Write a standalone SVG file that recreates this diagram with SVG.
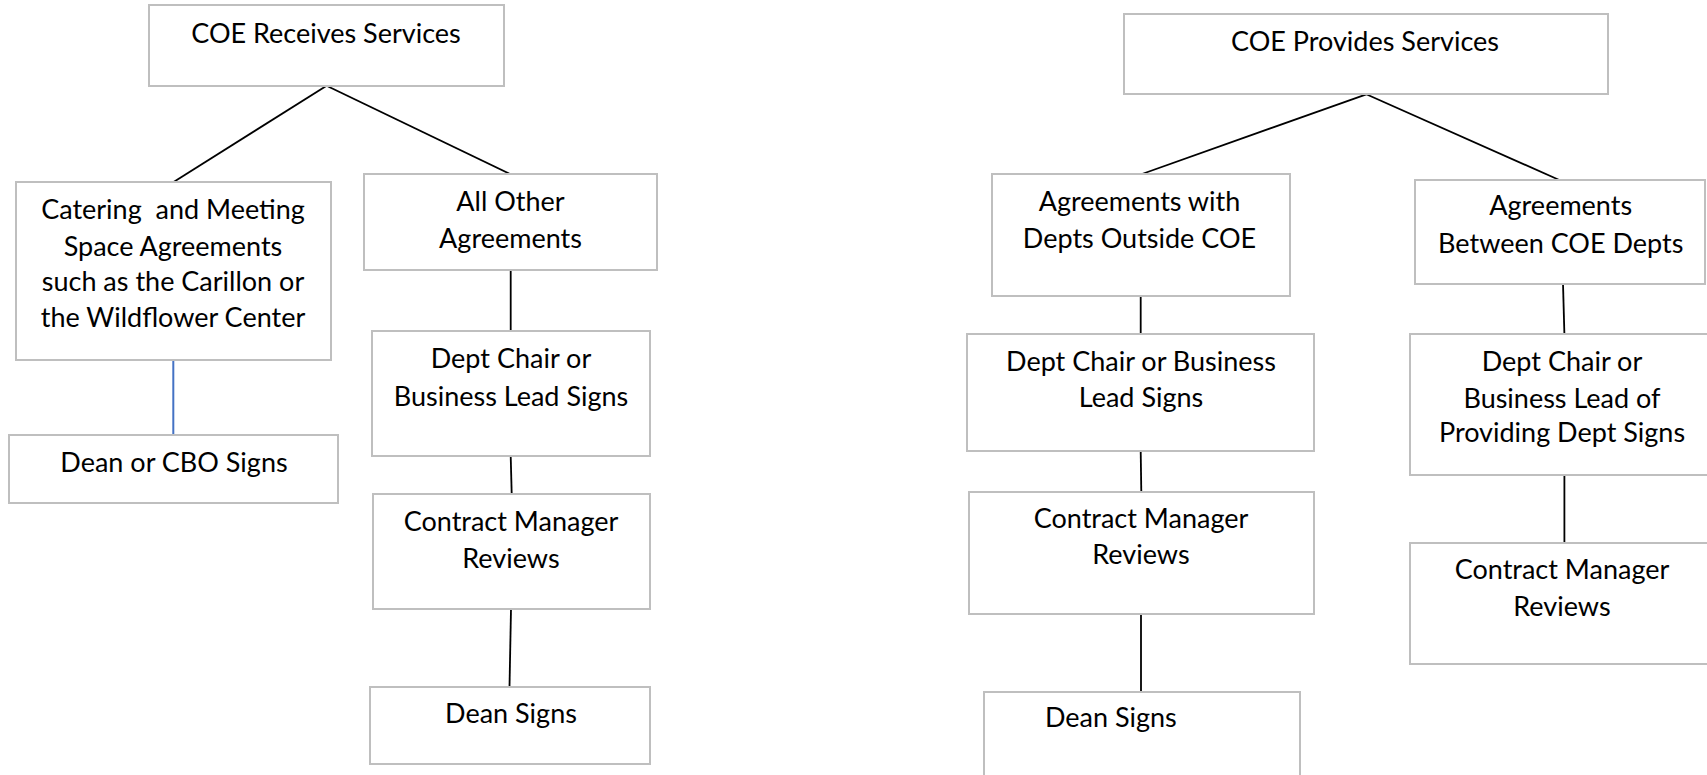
<svg xmlns="http://www.w3.org/2000/svg" width="1707" height="775" viewBox="0 0 1707 775">
<style>
.box{fill:#ffffff;stroke:#bfbfbf;stroke-width:2}
.t{font-family:Lato,"Open Sans","Liberation Sans",sans-serif;font-size:27px;fill:#000000;text-anchor:middle;white-space:pre}
.c{stroke:#000000;stroke-width:1.8;fill:none}
.cb{stroke:#4472c4;stroke-width:2;fill:none}
</style>
<rect width="1707" height="775" fill="#ffffff"/>
<g id="connectors">
<line class="c" x1="326.6" y1="85.7" x2="174" y2="181.7"/>
<line class="c" x1="326.6" y1="85.7" x2="510" y2="174"/>
<line class="cb" x1="173.3" y1="360" x2="173.3" y2="435"/>
<line class="c" x1="510.7" y1="270" x2="510.7" y2="331"/>
<line class="c" x1="510.7" y1="456" x2="511.7" y2="494"/>
<line class="c" x1="511" y1="609" x2="509.5" y2="687"/>
<line class="c" x1="1366.3" y1="94.3" x2="1142" y2="174"/>
<line class="c" x1="1366.3" y1="94.3" x2="1559.3" y2="180"/>
<line class="c" x1="1140.7" y1="296" x2="1140.7" y2="334"/>
<line class="c" x1="1140.7" y1="451" x2="1141.3" y2="492"/>
<line class="c" x1="1141" y1="614" x2="1141" y2="692"/>
<line class="c" x1="1563" y1="283.5" x2="1564.4" y2="334.2"/>
<line class="c" x1="1564.4" y1="475.2" x2="1564.4" y2="543"/>
</g>
<g id="coe-receives">
<rect class="box" x="149" y="5" width="355" height="81"/>
<text class="t" x="326" y="43">COE Receives Services</text>
</g>
<g id="catering">
<rect class="box" x="16" y="182" width="315" height="178"/>
<text class="t" x="173" y="219">Catering  and Meeting</text>
<text class="t" x="173" y="255.7">Space Agreements</text>
<text class="t" x="173" y="290.7">such as the Carillon or</text>
<text class="t" x="173" y="326.7">the Wildflower Center</text>
</g>
<g id="all-other">
<rect class="box" x="364" y="174" width="293" height="96"/>
<text class="t" x="510.5" y="211">All Other</text>
<text class="t" x="510.5" y="247.7">Agreements</text>
</g>
<g id="dean-cbo">
<rect class="box" x="9" y="435" width="329" height="68"/>
<text class="t" x="174" y="471.7">Dean or CBO Signs</text>
</g>
<g id="dept-chair-left">
<rect class="box" x="372" y="331" width="278" height="125"/>
<text class="t" x="511" y="368.3">Dept Chair or</text>
<text class="t" x="511" y="406">Business Lead Signs</text>
</g>
<g id="contract-left">
<rect class="box" x="373" y="494" width="277" height="115"/>
<text class="t" x="511" y="531">Contract Manager</text>
<text class="t" x="511" y="567.7">Reviews</text>
</g>
<g id="dean-left">
<rect class="box" x="370" y="687" width="280" height="77"/>
<text class="t" x="511" y="722.7">Dean Signs</text>
</g>
<g id="coe-provides">
<rect class="box" x="1124" y="14" width="484" height="80"/>
<text class="t" x="1365" y="50.7">COE Provides Services</text>
</g>
<g id="agreements-outside">
<rect class="box" x="992" y="174" width="298" height="122"/>
<text class="t" x="1139.5" y="211">Agreements with</text>
<text class="t" x="1139.5" y="247.7">Depts Outside COE</text>
</g>
<g id="agreements-between">
<rect class="box" x="1415" y="180" width="290" height="104"/>
<text class="t" x="1560.7" y="215.2">Agreements</text>
<text class="t" x="1560.7" y="253.1">Between COE Depts</text>
</g>
<g id="dept-chair-mid">
<rect class="box" x="967" y="334" width="347" height="117"/>
<text class="t" x="1141" y="370.7">Dept Chair or Business</text>
<text class="t" x="1141" y="407.3">Lead Signs</text>
</g>
<g id="dept-chair-providing">
<rect class="box" x="1410" y="334" width="300" height="141"/>
<text class="t" x="1562" y="371.4">Dept Chair or</text>
<text class="t" x="1562" y="407.6">Business Lead of</text>
<text class="t" x="1562" y="442.4">Providing Dept Signs</text>
</g>
<g id="contract-mid">
<rect class="box" x="969" y="492" width="345" height="122"/>
<text class="t" x="1141" y="527.7">Contract Manager</text>
<text class="t" x="1141" y="564.3">Reviews</text>
</g>
<g id="contract-right">
<rect class="box" x="1410" y="543" width="300" height="121"/>
<text class="t" x="1562" y="578.6">Contract Manager</text>
<text class="t" x="1562" y="615.8">Reviews</text>
</g>
<g id="dean-mid">
<rect class="box" x="984" y="692" width="316" height="90"/>
<text class="t" x="1045" y="727.3" style="text-anchor:start">Dean Signs</text>
</g>
</svg>
